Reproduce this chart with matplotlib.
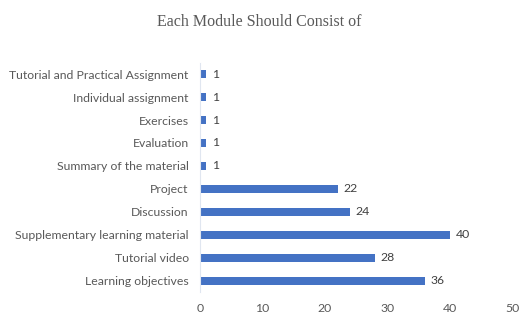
import matplotlib
import matplotlib.pyplot as plt

# data, bottom to top
categories = [
    "Learning objectives",
    "Tutorial video",
    "Supplementary learning material",
    "Discussion",
    "Project",
    "Summary of the material",
    "Evaluation",
    "Exercises",
    "Individual assignment",
    "Tutorial and Practical Assignment",
]
counts = [36, 28, 40, 24, 22, 1, 1, 1, 1, 1]
xticks = [0, 10, 20, 30, 40, 50]

matplotlib.rcParams["font.family"] = ["Lato", "DejaVu Sans"]
text_color = "#595959"

fig = plt.figure(figsize=(5.19, 3.16), dpi=100)
ax = fig.add_axes([0.385, 0.075, 0.603, 0.727])

bars = ax.barh(range(len(categories)), counts, height=0.35, color="#4472C4")
for bar, val in zip(bars, counts):
    ax.text(val + 0.9, bar.get_y() + bar.get_height() / 2, str(val),
            va="center", ha="left", fontsize=8.8, color="#404040")

ax.set_yticks(range(len(categories)))
ax.set_yticklabels(categories, fontsize=8.8, color=text_color)
ax.set_xticks(xticks)
ax.set_xticklabels([str(t) for t in xticks], fontsize=8.8, color=text_color)
ax.set_xlim(0, 50)
ax.set_ylim(-0.5, len(categories) - 0.5)

for side in ["top", "right", "bottom"]:
    ax.spines[side].set_visible(False)
ax.spines["left"].set_color("#e0e6f0")
ax.tick_params(axis="both", length=0)
ax.tick_params(axis="x", pad=8)
ax.tick_params(axis="y", pad=8)

fig.text(0.5, 0.93, "Each Module Should Consist of", ha="center", va="center",
         fontsize=11.5, color=text_color, family=["Liberation Serif", "DejaVu Serif"])

fig.savefig("out.png", dpi=100)
